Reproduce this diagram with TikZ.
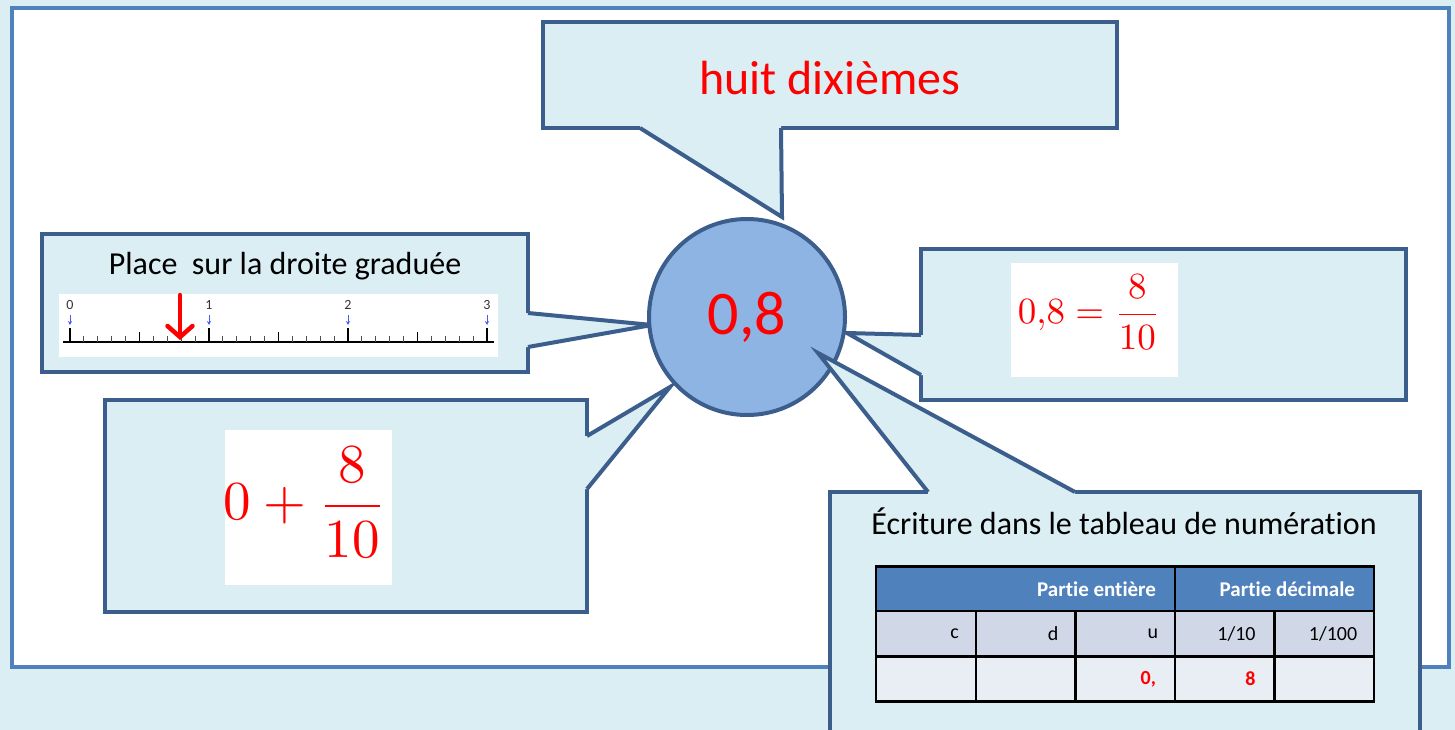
\documentclass[tikz,border=0pt]{standalone}
\usepackage{amsmath}
\usepackage{fontspec}
\setmainfont{Carlito}[Ligatures=NoCommon]
\usepackage{tikz}
\usetikzlibrary{arrows.meta}

\definecolor{bgBlue}{HTML}{DAEEF3}
\definecolor{panelBlue}{HTML}{4F81BD}
\definecolor{edgeBlue}{HTML}{3B5E8C}
\definecolor{circleBlue}{HTML}{8EB4E3}
\definecolor{rowBlue}{HTML}{D0D8E8}
\definecolor{rowPale}{HTML}{E9EDF4}
\definecolor{tickBlue}{HTML}{4A5CF0}

\newcommand{\fsz}[1]{\fontsize{#1}{#1}\selectfont}

\begin{document}
\begin{tikzpicture}[x=1pt, y=-1pt, line join=miter,
        every node/.style={inner sep=0pt, outer sep=0pt}]
    \tikzstyle{calloutBox} = [rectangle, draw=edgeBlue, fill=bgBlue, line width=4pt]
    \tikzstyle{calloutFill} = [fill=bgBlue]
    \tikzstyle{calloutEdge} = [draw=edgeBlue, line width=4pt]
    \tikzstyle{whiteImg} = [rectangle, fill=white]
    \tikzstyle{cellStyle} = [rectangle, draw=black, line width=2.5pt,
        minimum width=99.6, minimum height=45]
    \tikzstyle{headText} = [anchor=east, text=white, font=\fsz{21}\bfseries]
    \tikzstyle{cellText} = [anchor=east, font=\fsz{20}]
    \clip (0,0) rectangle (1455,730);
    \fill[bgBlue] (0,0) rectangle (1455,730);
    \node[rectangle, draw=panelBlue, fill=white, line width=4pt,
        minimum width=1437, minimum height=659] (panel) at (730.5,337.5) {};

    % top callout
    \node[calloutBox, minimum width=574, minimum height=106] (dixiemes) at (830,75) {};
    \node (texteDixiemes) at (830,78) {\fsz{48}\color{red}huit dixièmes};
    \coordinate (d1) at (640,128); \coordinate (d2) at (781,128);
    \coordinate (d1in) at (640,122); \coordinate (d2in) at (781,122);
    \coordinate (dTip) at (782,217);
    \fill[calloutFill] (d1in) -- (d1) -- (dTip) -- (d2) -- (d2in) -- cycle;
    \draw[calloutEdge] (d1) -- (dTip) -- (d2);

    % number line callout
    \node[calloutBox, minimum width=486, minimum height=138] (droite) at (285,303) {};
    \coordinate (g1) at (528,313); \coordinate (g2) at (528,347);
    \coordinate (g1in) at (522,313); \coordinate (g2in) at (522,347);
    \coordinate (gTip) at (652,325);
    \fill[calloutFill] (g1in) -- (g1) -- (gTip) -- (g2) -- (g2in) -- cycle;
    \draw[calloutEdge] (g1) -- (gTip) -- (g2);
    \node (titreDroite) at (285,266) {\fsz{32}Place~ sur la droite graduée};
    \node[whiteImg, minimum width=439, minimum height=63] (imgDroite) at (278.5,325.5) {};
    \coordinate (axeA) at (63,342); \coordinate (axeB) at (494,342);
    \draw[line width=2.5pt] (axeA) -- (axeB);
    \foreach \i in {0,...,30}
        \draw[line width=1pt, black!70] ({70+13.9*\i},342) -- ++(0,-6);
    \foreach \i in {5,15,25}
        \draw[line width=1.6pt] ({70+13.9*\i},342) -- ++(0,-10);
    \foreach \n in {0,1,2,3} {
        \draw[line width=1.8pt] ({70+139*\n},342) -- ++(0,-14);
        \node[font=\fsz{14}, text=black!80] (lab\n) at ({70+139*\n},305) {\n};
        \draw[tickBlue, line width=0.8pt, -{Stealth[length=4pt,width=4pt]}]
            ({70+139*\n},315) -- ++(0,10);
    }
    \coordinate (flecheHaut) at (180,295); \coordinate (flecheBas) at (180,340);
    \draw[red, line width=4.5pt, line cap=round,
        -{Straight Barb[length=11pt,width=25pt,line cap=round]}] (flecheHaut) -- (flecheBas);

    % fraction callout (right)
    \node[calloutBox, minimum width=485, minimum height=151] (egalite) at (1163.5,324.5) {};
    \coordinate (e1) at (921,335); \coordinate (e2) at (921,375);
    \coordinate (e1in) at (927,335); \coordinate (e2in) at (927,375);
    \coordinate (eTip) at (847,333);
    \fill[calloutFill] (e1in) -- (e1) -- (eTip) -- (e2) -- (e2in) -- cycle;
    \draw[calloutEdge] (e1) -- (eTip) -- (e2);
    \node[whiteImg, minimum width=167, minimum height=114] (imgEgalite) at (1094.5,320) {};
    \node[text=red, scale=3.7] (formEgalite) at (1089,312)
        {$\displaystyle 0{,}8=\frac{8}{10}$};

    % sum callout (bottom left)
    \node[calloutBox, minimum width=482, minimum height=212] (somme) at (346,506) {};
    \coordinate (s1) at (587,436); \coordinate (s2) at (587,489);
    \coordinate (s1in) at (581,436); \coordinate (s2in) at (581,489);
    \coordinate (sTip) at (670,387);
    \fill[calloutFill] (s1in) -- (s1) -- (sTip) -- (s2) -- (s2in) -- cycle;
    \draw[calloutEdge] (s1) -- (sTip) -- (s2);
    \node[whiteImg, minimum width=167, minimum height=155] (imgSomme) at (308.5,507.5) {};
    \node[text=red, scale=5.5] (formSomme) at (305,502)
        {$\displaystyle 0+\frac{8}{10}$};

    % the number
    \node[circle, draw=edgeBlue, fill=circleBlue, line width=4pt,
        minimum size=196] (nombre) at (747,317) {\fsz{62}\color{red}0,8};

    % table callout (bottom right)
    \node[calloutBox, minimum width=590, minimum height=268] (tableau) at (1125,626) {};
    \coordinate (t1) at (928,492); \coordinate (t2) at (1075,492);
    \coordinate (t1in) at (928,498); \coordinate (t2in) at (1075,498);
    \coordinate (tTip) at (818,353);
    \fill[calloutFill] (t1in) -- (t1) -- (tTip) -- (t2) -- (t2in) -- cycle;
    \draw[calloutEdge] (t1) -- (tTip) -- (t2);
    \node (titreTableau) at (1124,521) {\fsz{32}Écriture dans le tableau de numération};
    \node[cellStyle, fill=panelBlue, minimum width=299] (entiere) at (1025.5,589) {};
    \node[cellStyle, fill=panelBlue, minimum width=199] (decimale) at (1274.5,589) {};
    \foreach \i in {0,...,4} {
        \node[cellStyle, fill=rowBlue] (rang\i) at ({926+99.6*\i},633.5) {};
        \node[cellStyle, fill=rowPale] (val\i) at ({926+99.6*\i},679) {};
    }
    \node[headText] at ([xshift=-19pt]entiere.east) {Partie entière};
    \node[headText] at ([xshift=-19pt]decimale.east) {Partie décimale};
    \node[cellText] at ([xshift=-17pt]rang0.east) {c};
    \node[cellText] at ([xshift=-17pt]rang1.east) {d};
    \node[cellText] at ([xshift=-17pt]rang2.east) {u};
    \node[cellText] at ([xshift=-19pt]rang3.east) {1/10};
    \node[cellText] at ([xshift=-17pt]rang4.east) {1/100};
    \node[cellText, text=red, font=\fsz{20}\bfseries] at ([xshift=-19pt]val2.east) {0,};
    \node[cellText, text=red, font=\fsz{20}\bfseries] at ([xshift=-19pt]val3.east) {8};
\end{tikzpicture}
\end{document}
